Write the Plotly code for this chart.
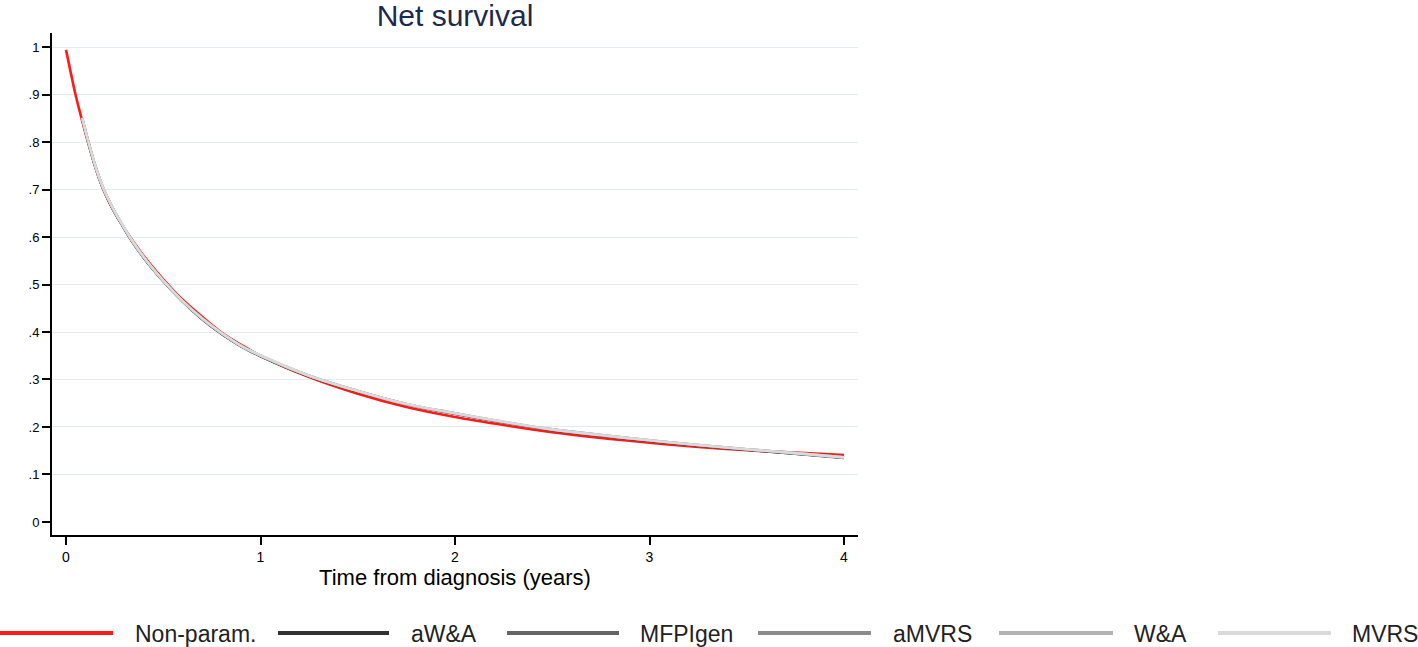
import plotly.graph_objects as go

# ---------------- data ----------------
t_np = [0, 0.025, 0.05, 0.083, 0.115, 0.15, 0.187, 0.22, 0.25, 0.29, 0.33, 0.4, 0.5, 0.6,
        0.7, 0.8, 0.9, 1.0, 1.25, 1.5, 1.75, 2.0, 2.25, 2.5, 2.75, 3.0, 3.25, 3.5, 3.75, 4.0]
s_nonparam = [0.994, 0.945, 0.898, 0.845, 0.797, 0.748, 0.705, 0.675, 0.652, 0.625, 0.600,
              0.560, 0.511, 0.468, 0.432, 0.399, 0.373, 0.350, 0.305, 0.270, 0.242, 0.221,
              0.204, 0.189, 0.177, 0.167, 0.158, 0.151, 0.146, 0.141]

t_model = [0.083, 0.115, 0.15, 0.187, 0.22, 0.25, 0.29, 0.33, 0.4, 0.5, 0.6, 0.7, 0.8, 0.9,
           1.0, 1.25, 1.5, 1.75, 2.0, 2.25, 2.5, 2.75, 3.0, 3.25, 3.5, 3.75, 4.0]
s_aWA = [0.849, 0.799, 0.749, 0.706, 0.676, 0.652, 0.624, 0.597, 0.556, 0.507, 0.464, 0.427,
         0.396, 0.370, 0.349, 0.307, 0.275, 0.248, 0.228, 0.210, 0.194, 0.182, 0.171, 0.161,
         0.152, 0.144, 0.135]
s_MFPIgen = [0.850, 0.800, 0.750, 0.707, 0.677, 0.653, 0.625, 0.598, 0.557, 0.508, 0.465, 0.428,
             0.397, 0.371, 0.350, 0.307, 0.275, 0.248, 0.228, 0.210, 0.194, 0.182, 0.171, 0.161,
             0.152, 0.144, 0.136]
s_aMVRS = [0.850, 0.800, 0.750, 0.707, 0.677, 0.653, 0.625, 0.598, 0.557, 0.508, 0.465, 0.428,
           0.397, 0.371, 0.350, 0.308, 0.276, 0.248, 0.229, 0.210, 0.195, 0.183, 0.172, 0.162,
           0.153, 0.145, 0.136]
s_WA = [0.850, 0.800, 0.750, 0.707, 0.677, 0.653, 0.625, 0.598, 0.557, 0.508, 0.465, 0.428,
        0.397, 0.371, 0.350, 0.308, 0.276, 0.248, 0.229, 0.211, 0.195, 0.183, 0.172, 0.162,
        0.153, 0.145, 0.136]
s_MVRS = [0.851, 0.801, 0.751, 0.708, 0.678, 0.654, 0.626, 0.599, 0.558, 0.508, 0.465, 0.429,
          0.398, 0.371, 0.351, 0.308, 0.276, 0.249, 0.229, 0.211, 0.195, 0.183, 0.172, 0.162,
          0.153, 0.145, 0.136]

series_names = ["Non-param.", "aW&A", "MFPIgen", "aMVRS", "W&A", "MVRS"]
series_x = [t_np, t_model, t_model, t_model, t_model, t_model]
series_y = [s_nonparam, s_aWA, s_MFPIgen, s_aMVRS, s_WA, s_MVRS]

x_ticks = [0, 1, 2, 3, 4]
y_ticks = [0, 0.1, 0.2, 0.3, 0.4, 0.5, 0.6, 0.7, 0.8, 0.9, 1]
y_ticktext = ["0", ".1", ".2", ".3", ".4", ".5", ".6", ".7", ".8", ".9", "1"]

# ---------------- styles ----------------
colors = ["#ff1a1a", "#333333", "#666666", "#8c8c8c", "#b4b4b4", "#dadada"]
FONT = "Liberation Sans, Arial, sans-serif"

W, H = 1418, 647
ML, MR, MT, MB = 52, 560, 33, 112
PW, PH = W - ML - MR, H - MT - MB

def px_to_paper_x(px):
    return (px - ML) / PW

def py_to_paper_y(py):
    return (H - MB - py) / PH

fig = go.Figure()
for name, xs, ys, c in zip(series_names, series_x, series_y, colors):
    fig.add_trace(go.Scatter(
        x=xs, y=ys, mode="lines", name=name,
        line=dict(color=c, width=2.6, shape="spline", smoothing=1.0),
        showlegend=False, hoverinfo="x+y+name"))

# custom legend along the bottom (long line samples as in the reference)
legend_line_px = [(0, 113), (278, 389), (507, 619), (758, 871), (999, 1113), (1218, 1331)]
legend_text_px = [133, 409, 638, 891, 1132, 1350]
legend_y_px = 633
shapes = []
annotations = []
for name, c, (x0, x1), tx in zip(series_names, colors, legend_line_px, legend_text_px):
    shapes.append(dict(type="line", xref="paper", yref="paper",
                       x0=px_to_paper_x(x0), x1=px_to_paper_x(x1),
                       y0=py_to_paper_y(legend_y_px), y1=py_to_paper_y(legend_y_px),
                       line=dict(color=c, width=4)))
    annotations.append(dict(xref="paper", yref="paper", x=px_to_paper_x(tx),
                            y=py_to_paper_y(legend_y_px + 1), xanchor="left", yanchor="middle",
                            text=name, showarrow=False,
                            font=dict(family=FONT, size=23, color="#222222")))

fig.update_layout(
    width=W, height=H,
    margin=dict(l=ML, r=MR, t=MT, b=MB, pad=0),
    paper_bgcolor="white", plot_bgcolor="white",
    title=dict(text="Net survival", x=0.5, xref="paper", xanchor="center",
               y=1 - 15 / H, yref="container", yanchor="middle",
               font=dict(family=FONT, size=30, color="#1c2a4e")),
    shapes=shapes, annotations=annotations,
    showlegend=False,
    xaxis=dict(range=[-0.072, 4.072], tickvals=x_ticks, ticktext=[str(v) for v in x_ticks],
               showgrid=False, zeroline=False, showline=True, linecolor="black", linewidth=2,
               ticks="outside", ticklen=8, tickwidth=2, tickcolor="black",
               tickfont=dict(family=FONT, size=14, color="black"),
               title=dict(text="Time from diagnosis (years)", standoff=3,
                          font=dict(family=FONT, size=22, color="black"))),
    yaxis=dict(range=[-0.0274, 1.0295], tickvals=y_ticks, ticktext=y_ticktext,
               showgrid=True, gridcolor="#e2ebed", gridwidth=1,
               zeroline=True, zerolinecolor="white", zerolinewidth=1,
               showline=True, linecolor="black", linewidth=2,
               ticks="outside", ticklen=8, tickwidth=2, tickcolor="black",
               tickfont=dict(family=FONT, size=13, color="black")),
)

fig.write_html("out.html", config={"displayModeBar": False},
               post_script="document.body.style.margin='0';document.body.style.overflow='hidden';")
